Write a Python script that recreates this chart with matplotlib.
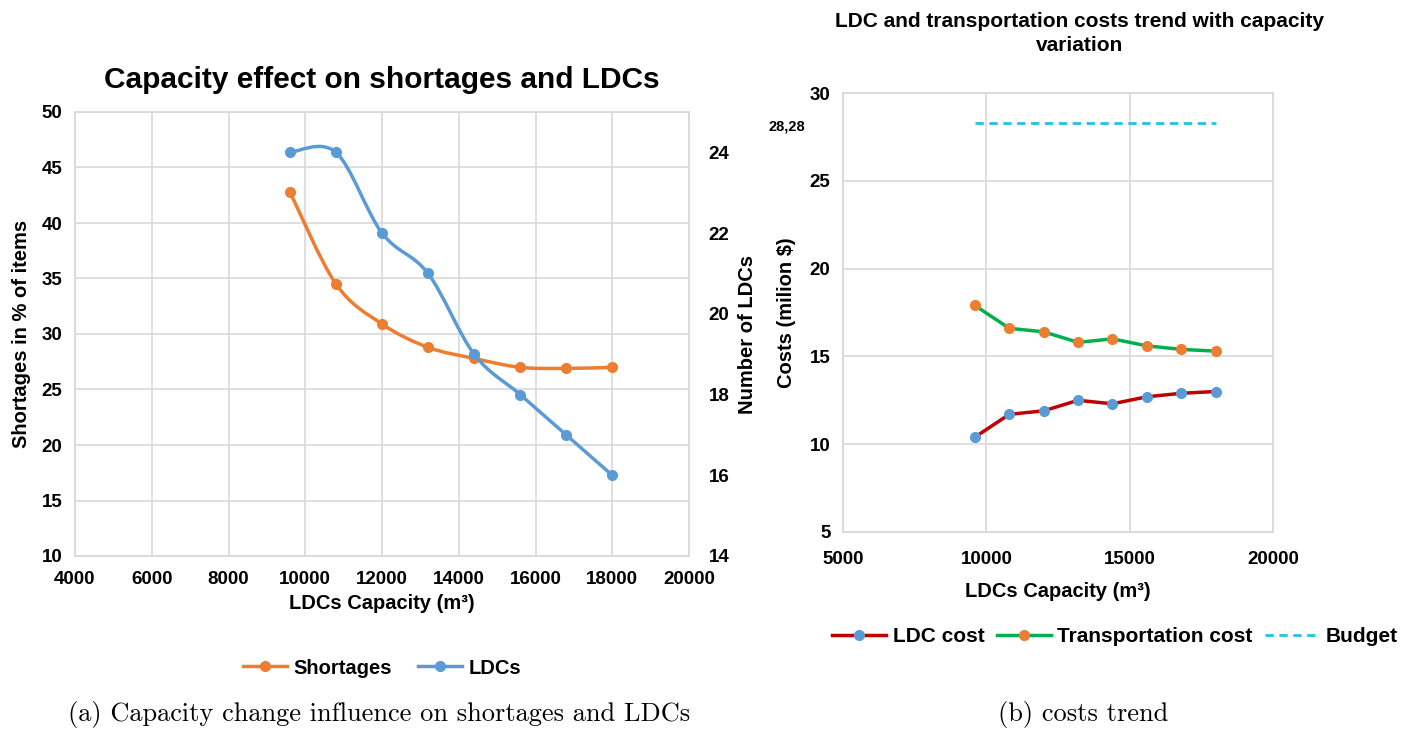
import matplotlib
matplotlib.use("Agg")
import matplotlib.pyplot as plt
from matplotlib.path import Path
from matplotlib.patches import PathPatch
from matplotlib.lines import Line2D

# data
capacity = [9600, 10800, 12000, 13200, 14400, 15600, 16800, 18000]
shortages = [42.8, 34.5, 30.9, 28.8, 27.8, 27.0, 26.9, 27.0]
ldcs = [24, 24, 22, 21, 19, 18, 17, 16]
ldc_cost = [10.4, 11.7, 11.9, 12.5, 12.3, 12.7, 12.9, 13.0]
transport_cost = [17.9, 16.6, 16.4, 15.8, 16.0, 15.6, 15.4, 15.3]
budget = 28.28

ORANGE = "#ED7D31"
BLUE = "#5B9BD5"
RED = "#C00000"
GREEN = "#00B050"
CYAN = "#22C3DE"
GRID = "#d9d9d9"

plt.rcParams["font.family"] = ["Liberation Sans", "DejaVu Sans"]
plt.rcParams["font.weight"] = "bold"
plt.rcParams["axes.labelweight"] = "bold"
plt.rcParams["axes.titleweight"] = "bold"


def smooth_path(xs, ys):
    # excel-like smoothed line: cubic bezier through the points
    n = len(xs)
    verts = [(xs[0], ys[0])]
    codes = [Path.MOVETO]
    for i in range(n - 1):
        i0 = max(i - 1, 0)
        i3 = min(i + 2, n - 1)
        c1 = (xs[i] + (xs[i + 1] - xs[i0]) / 6, ys[i] + (ys[i + 1] - ys[i0]) / 6)
        c2 = (xs[i + 1] - (xs[i3] - xs[i]) / 6, ys[i + 1] - (ys[i3] - ys[i]) / 6)
        verts += [c1, c2, (xs[i + 1], ys[i + 1])]
        codes += [Path.CURVE4] * 3
    return Path(verts, codes)


def style_axes(ax):
    for s in ax.spines.values():
        s.set_color(GRID)
        s.set_linewidth(1.3)
    ax.tick_params(length=0, labelsize=13.5)
    ax.tick_params(axis="x", pad=11)
    ax.tick_params(axis="y", pad=9)
    ax.grid(True, color=GRID, linewidth=1.2)
    ax.set_axisbelow(True)


fig = plt.figure(figsize=(14.05, 7.31), dpi=100)

# ---- (a) left chart
ax = fig.add_axes([75 / 1405, 1 - 556 / 731, 614 / 1405, 444 / 731])
ax2 = ax.twinx()
style_axes(ax)
ax2.tick_params(length=0, labelsize=13.5, pad=14)
for s in ax2.spines.values():
    s.set_visible(False)

ax.set_xlim(4000, 20000)
ax.set_ylim(10, 50)
ax.set_xticks(range(4000, 20001, 2000))
ax.set_yticks(range(10, 51, 5))
ax2.set_ylim(14, 25)
ax2.set_yticks(range(14, 25, 2))

ax.add_patch(PathPatch(smooth_path(capacity, shortages), fill=False, edgecolor=ORANGE, lw=2.5))
ax.plot(capacity, shortages, "o", color=ORANGE, ms=7)
ax2.add_patch(PathPatch(smooth_path(capacity, ldcs), fill=False, edgecolor=BLUE, lw=2.5))
ax2.plot(capacity, ldcs, "o", color=BLUE, ms=7)

ax.set_title("Capacity effect on shortages and LDCs", fontsize=21.5, pad=17)
ax.set_xlabel("LDCs Capacity (m³)", fontsize=14.5, labelpad=4)
ax.set_ylabel("Shortages in % of items", fontsize=14.5, labelpad=8)
ax2.set_ylabel("Number of LDCs", fontsize=14.5, labelpad=6)

handles = [Line2D([], [], color=ORANGE, lw=2.5, marker="o", ms=7),
           Line2D([], [], color=BLUE, lw=2.5, marker="o", ms=7)]
fig.legend(handles, ["Shortages", "LDCs"], loc="center", bbox_to_anchor=(382 / 1405, 1 - 668 / 731),
           ncol=2, frameon=False, fontsize=14.5, handlelength=2.2, handletextpad=0.3, columnspacing=1.3)

# ---- (b) right chart
bx = fig.add_axes([843 / 1405, 1 - 532 / 731, 430 / 1405, 439 / 731])
style_axes(bx)
bx.tick_params(axis="x", pad=14)
bx.set_xlim(5000, 20000)
bx.set_ylim(5, 30)
bx.set_xticks(range(5000, 20001, 5000))
bx.set_yticks(range(5, 31, 5))

bx.plot(capacity, ldc_cost, color=RED, lw=2.5, marker="o", mfc=BLUE, mec=BLUE, ms=7, label="LDC cost")
bx.plot(capacity, transport_cost, color=GREEN, lw=2.5, marker="o", mfc=ORANGE, mec=ORANGE, ms=7,
        label="Transportation cost")
bx.plot([capacity[0], capacity[-1]], [budget, budget], color=CYAN, lw=2, ls=(0, (3, 2)), label="Budget")
bx.annotate("28,28", xy=(0, budget), xycoords=("axes fraction", "data"), xytext=(-56, -3),
            textcoords="offset pixels", ha="center", va="center", fontsize=10.5, fontweight="bold")

bx.set_title("LDC and transportation costs trend with capacity\nvariation", fontsize=15,
             pad=30, x=0.55, linespacing=1.35)
bx.set_xlabel("LDCs Capacity (m³)", fontsize=14.5, labelpad=10)
bx.set_ylabel("Costs (milion \\$)", fontsize=14.5, labelpad=10)
bx.legend(loc="center", bbox_to_anchor=(1115 / 1405, 1 - 637 / 731), bbox_transform=fig.transFigure,
          ncol=3, frameon=False, fontsize=15, handlelength=2.6, handletextpad=0.3, columnspacing=0.6)

# captions
fig.text(379 / 1405, 1 - 715 / 731, "(a) Capacity change influence on shortages and LDCs",
         family="cmr10", fontweight="normal", fontsize=19, ha="center", va="center")
fig.text(1083 / 1405, 1 - 715 / 731, "(b) costs trend",
         family="cmr10", fontweight="normal", fontsize=19, ha="center", va="center")

fig.savefig("out.png", dpi=100)
